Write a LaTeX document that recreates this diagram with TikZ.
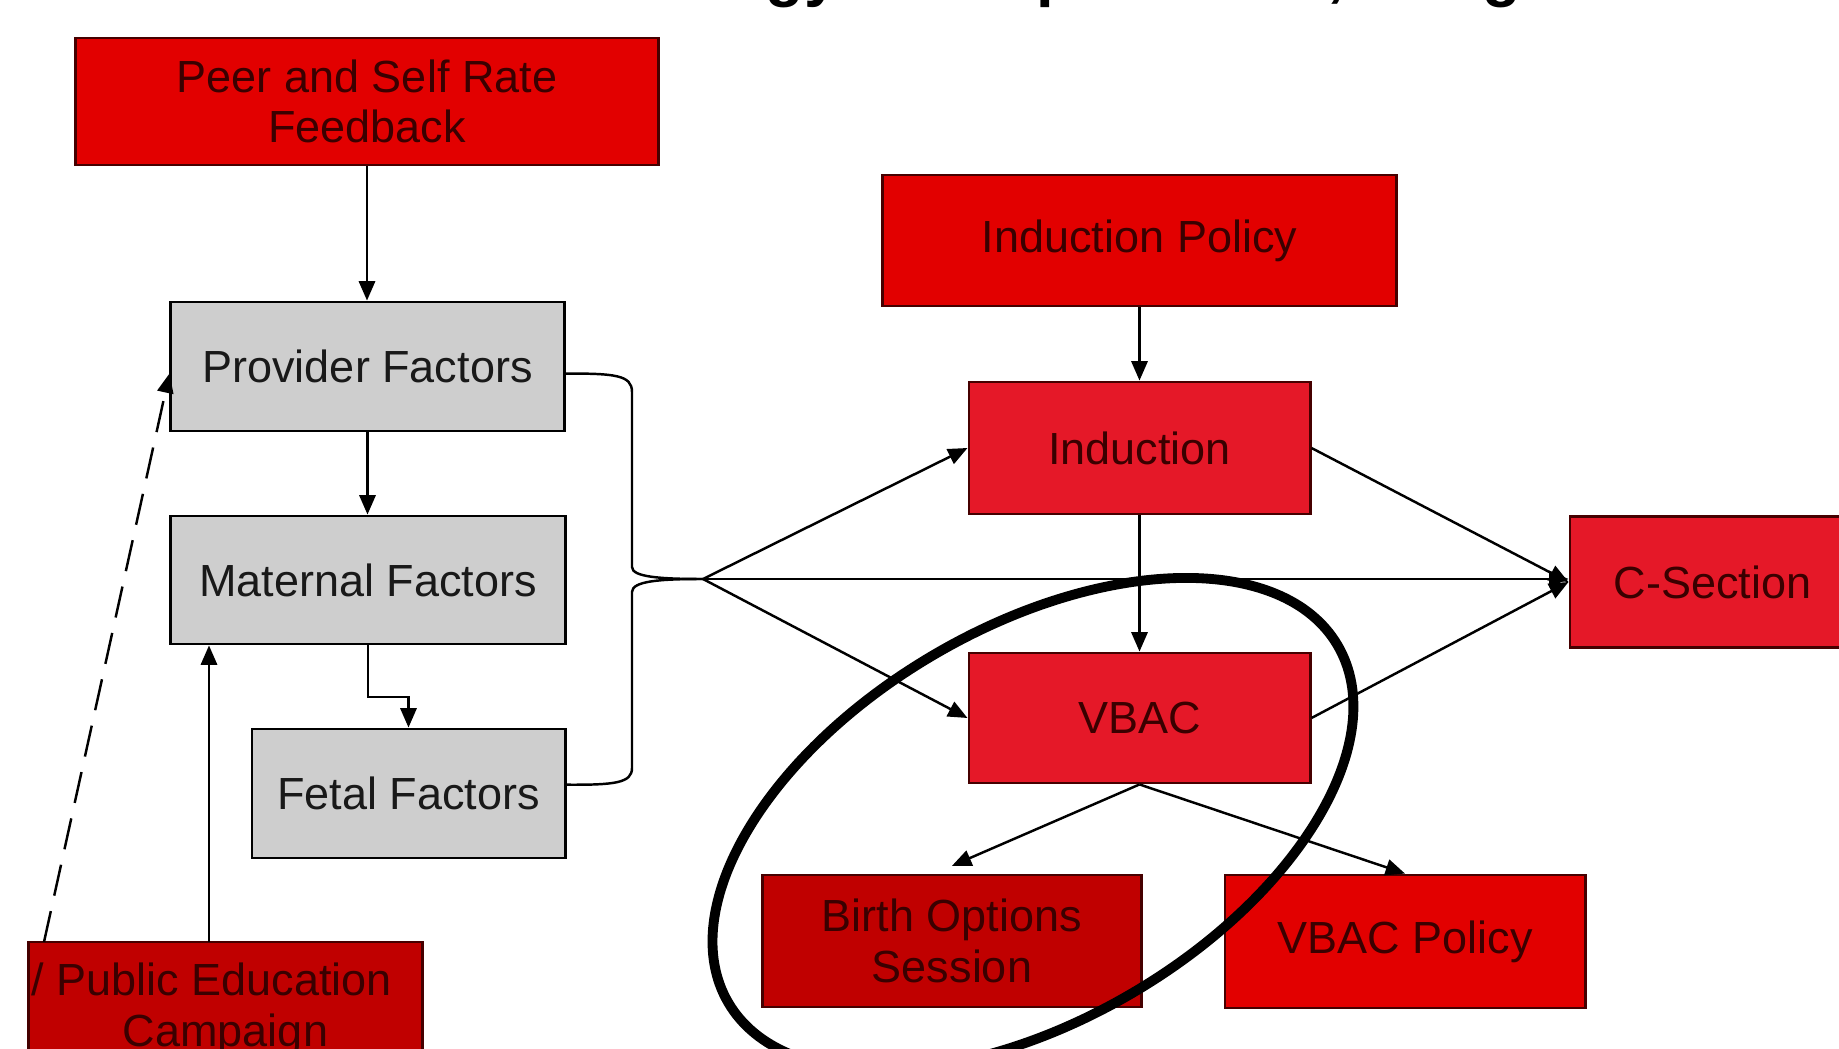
\documentclass[tikz,border=0pt]{standalone}
\usepackage{fontspec}
\setmainfont{Liberation Sans}
\newfontfamily\lsans{Liberation Sans}
\usetikzlibrary{arrows.meta}
\definecolor{brightred}{RGB}{226,0,0}
\definecolor{midred}{RGB}{229,24,40}
\definecolor{darkred}{RGB}{192,0,0}
\definecolor{boxgrey}{RGB}{206,206,206}
\definecolor{redtext}{RGB}{58,0,0}
\definecolor{greytext}{RGB}{25,25,25}
\definecolor{rededge}{RGB}{70,0,0}
\tikzset{
  basebox/.style={draw, line width=0.8pt, inner sep=0pt, align=center,
    font=\lsans\fontsize{12.8}{14.4}\selectfont},
  brightbox/.style={basebox, fill=brightred, draw=rededge, text=redtext},
  midbox/.style={basebox, fill=midred, draw=rededge, text=redtext},
  darkbox/.style={basebox, fill=darkred, draw=rededge, text=redtext},
  greybox/.style={basebox, fill=boxgrey, draw=black, text=greytext},
  plaintext/.style={inner sep=0pt, font=\lsans\fontsize{12.8}{14.4}\selectfont, text=redtext},
  titlefrag/.style={inner sep=0pt, font=\lsans\bfseries\fontsize{18}{18}\selectfont, text=black},
  conn/.style={line width=0.7pt, draw=black},
  arr/.style={conn, -{Triangle[length=5.5pt,width=4.6pt]}},
  dasharr/.style={arr, dash pattern=on 9pt off 4.5pt},
  ring/.style={line width=2.8pt, draw=black}
}
\begin{document}
\begin{tikzpicture}[x=0.01cm, y=-0.01cm]
\useasboundingbox (0,0) rectangle (1839,1049);
\fill[white] (0,0) rectangle (1839,1049);

% cut-off title fragments
\node[titlefrag, anchor=base west] (tf1) at (765,-5) {gy};
\node[titlefrag, anchor=base west] (tf2) at (1036,-5) {p};
\node[titlefrag, anchor=base west] (tf3) at (1327,-5) {,};
\node[titlefrag, anchor=base west] (tf4) at (1482,-5) {g};

% boxes
\node[brightbox, minimum width=5.82cm, minimum height=1.27cm] (peer) at (367,101.5) {Peer and Self Rate\\Feedback};
\node[brightbox, minimum width=5.13cm, minimum height=1.31cm] (ipol) at (1139.5,240.5) {Induction Policy};
\node[greybox, minimum width=3.93cm, minimum height=1.29cm] (prov) at (367.5,366.5) {Provider Factors};
\node[midbox, minimum width=3.41cm, minimum height=1.32cm] (ind) at (1139.5,448) {Induction};
\node[greybox, minimum width=3.94cm, minimum height=1.28cm] (mat) at (368,580) {Maternal Factors};
\node[midbox, minimum width=2.85cm, minimum height=1.31cm] (csec) at (1712.5,582) {C-Section};
\node[midbox, minimum width=3.41cm, minimum height=1.30cm] (vbac) at (1139.5,718) {VBAC};
\node[greybox, minimum width=3.13cm, minimum height=1.29cm] (fetal) at (408.5,793.5) {Fetal Factors};
\node[darkbox, minimum width=3.78cm, minimum height=1.32cm] (birth) at (952,941) {Birth Options\\Session};
\node[brightbox, minimum width=3.60cm, minimum height=1.33cm] (vpol) at (1405,941.5) {VBAC Policy};
\node[darkbox, minimum width=3.93cm, minimum height=1.32cm] (pub) at (225.5,1008) {};
\node[plaintext, anchor=base west] (pub1) at (31,995) {/ Public Education};
\node[plaintext, anchor=base] (pub2) at (225.5,1046) {Campaign};

% left column connectors
\draw[arr] (peer.south) -- (peer.south |- prov.north);
\draw[arr] (prov.south) -- (prov.south |- mat.north);
\coordinate (elb) at (0,697);
\draw[arr] (mat.south) -- (mat.south |- elb) -| (fetal.north);
\coordinate (pubup) at (209,942);
\draw[arr] (pubup) -- (pubup |- mat.south);
\coordinate (dashstart) at (44,942);
\draw[dasharr] (dashstart) -- ([yshift=-2pt]prov.west);

% brace joining provider and fetal factors
\coordinate (hub) at (703,579);
\draw[conn] ([yshift=-2pt]prov.east) .. controls (615,373.5) and (632,375) .. (632,392)
  -- (632,567) .. controls (632,577) and (660,579) .. (hub);
\draw[conn] (hub) .. controls (660,579) and (632,581) .. (632,592)
  -- (632,768) .. controls (632,783) and (615,785) .. ([yshift=2.5pt]fetal.east);

% arrows from hub
\draw[arr] (hub) -- (ind.west);
\draw[arr] (hub) -- (vbac.west);
\draw[arr] (hub) -- (hub -| csec.west);

% right part
\draw[arr] (ipol.south) -- (ipol.south |- ind.north);
\draw[arr] (ind.south) -- (ind.south |- vbac.north);
\draw[arr] (ind.east) -- (csec.west);
\draw[arr] (vbac.east) -- (csec.west);
\draw[arr] (vbac.south) -- ([yshift=2.2pt]birth.north);
\draw[arr] (vbac.south) -- (vpol.north);

% highlight ring
\coordinate (ellc) at (1033,824);
\draw[ring, rotate around={30.4:(ellc)}] (ellc) ellipse [x radius=3.53cm, y radius=1.96cm];
\end{tikzpicture}
\end{document}
